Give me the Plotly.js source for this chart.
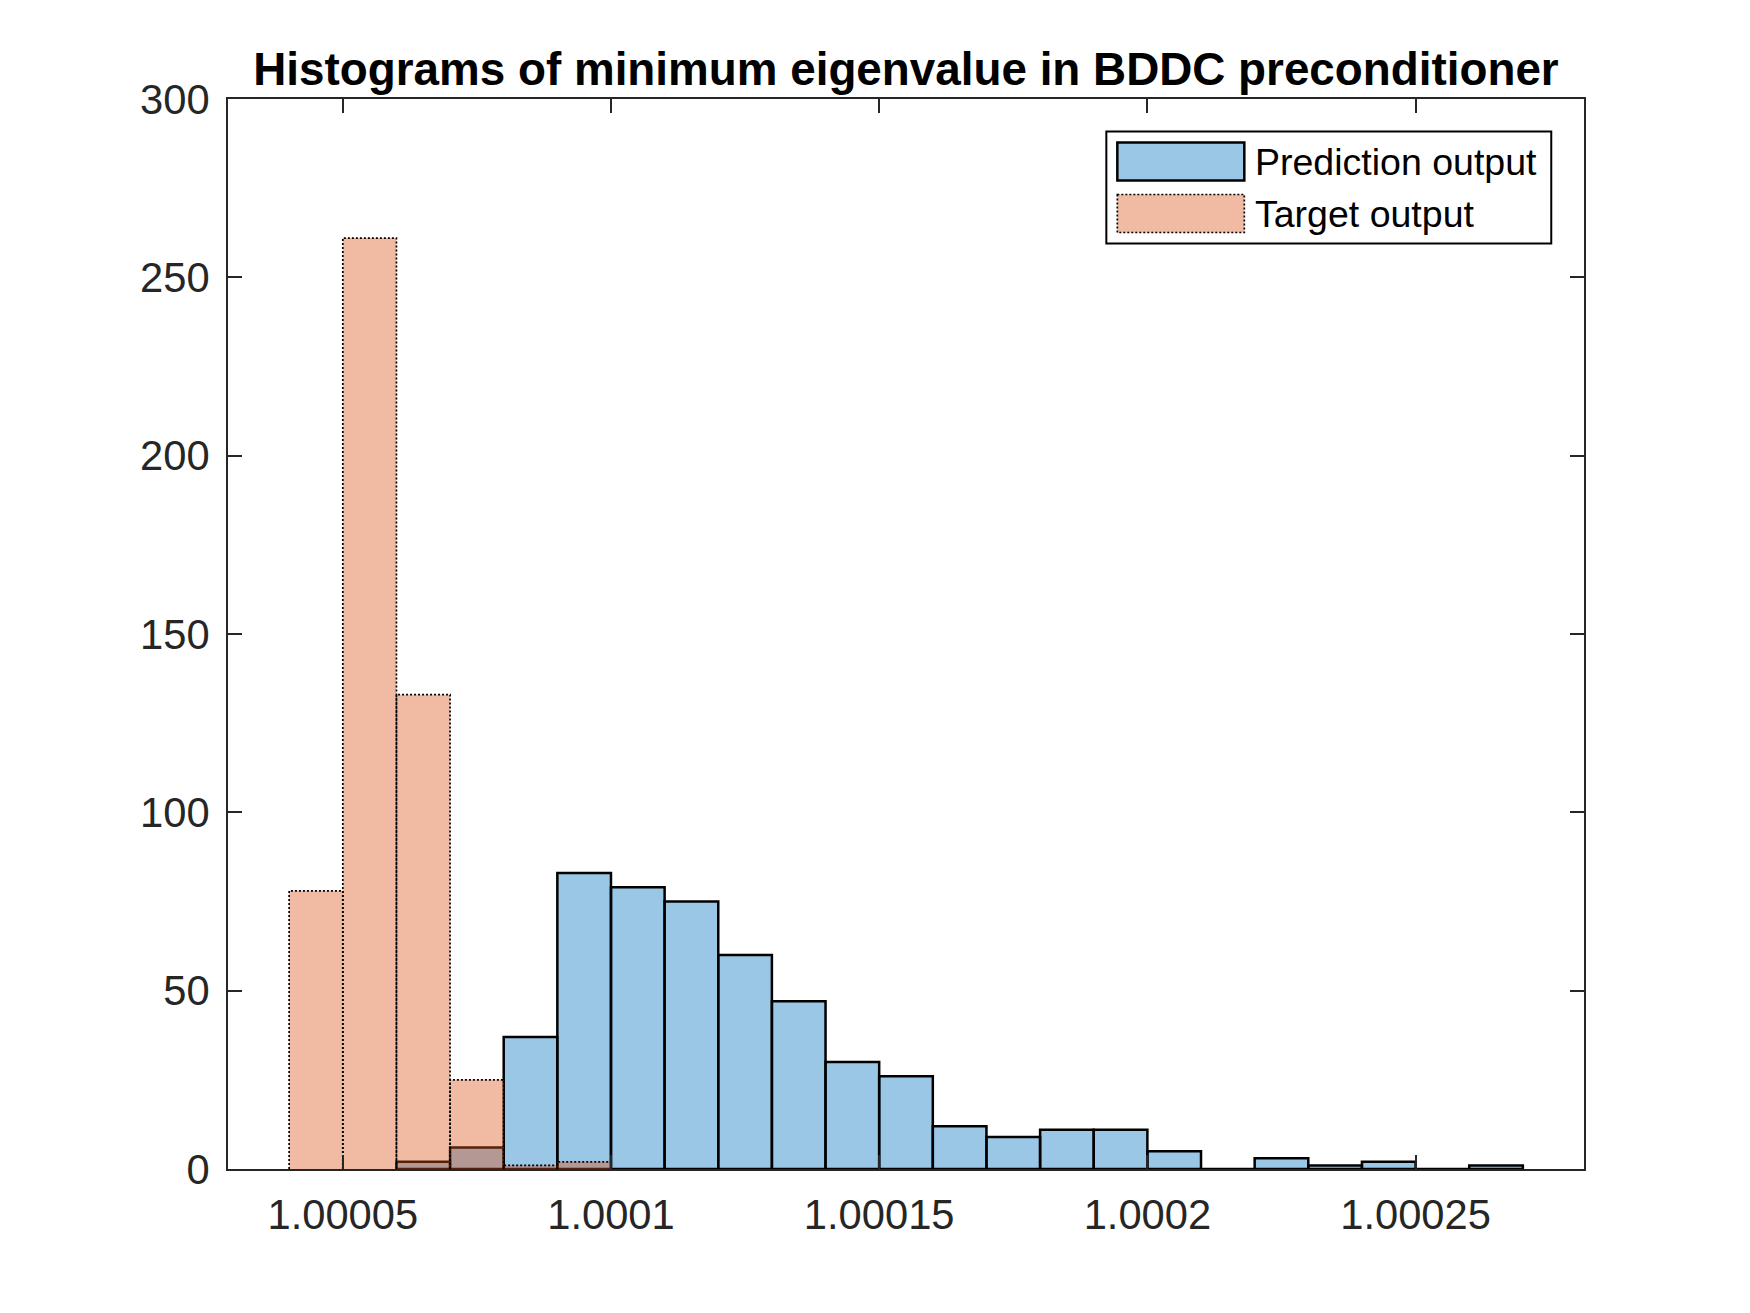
<!DOCTYPE html>
<html>
<head>
<meta charset="utf-8">
<script src="https://cdn.plot.ly/plotly-3.0.1.min.js"></script>
<style>
  html, body { margin: 0; padding: 0; background: #fff; }
  #myDiv { width: 1750px; height: 1313px; }
</style>
</head>
<body>
<div id="myDiv"></div>
<script>
// bin left edges and counts
var binWidth = 0.00001;

var predEdges = [1.00006, 1.00007, 1.00008, 1.00009, 1.00010, 1.00011, 1.00012,
  1.00013, 1.00014, 1.00015, 1.00016, 1.00017, 1.00018, 1.00019, 1.00020,
  1.00021, 1.00022, 1.00023, 1.00024, 1.00025, 1.00026];
var predCounts = [2, 6, 37, 83, 79, 75, 60, 47, 30, 26, 12, 9, 11, 11, 5, 0, 3, 1, 2, 0, 1];

var targEdges = [1.00004, 1.00005, 1.00006, 1.00007, 1.00008, 1.00009];
var targCounts = [78, 261, 133, 25, 1, 2];

var xTickVals = [1.00005, 1.0001, 1.00015, 1.0002, 1.00025];
var xTickText = ['1.00005', '1.0001', '1.00015', '1.0002', '1.00025'];
var yTickVals = [0, 50, 100, 150, 200, 250, 300];

var seriesNames = ['Prediction output', 'Target output'];

// figure geometry (pixels)
var W = 1750, H = 1313;
var axL = 227.5, axR = 1583.75, axT = 98.5, axB = 1168.6;
var axColor = '#262626';
var font = 'Liberation Sans, Arial, Helvetica, sans-serif';

var blueFill = 'rgba(0,114,189,0.4)';
var orangeFill = 'rgba(217,83,25,0.4)';

function px(x) { return (x - axL) / (axR - axL); }
function py(y) { return (axB - y) / (axB - axT); }

// dotted outline of the target bars, built from the bins
var outX = [], outY = [];
targEdges.forEach(function (e, i) {
  outX.push(e, e, e + binWidth, e + binWidth, null);
  outY.push(0, targCounts[i], targCounts[i], 0, null);
});

var trace1 = {
  x: predEdges,
  y: predCounts,
  type: 'bar',
  width: binWidth,
  offset: 0,
  name: seriesNames[0],
  marker: {color: blueFill, line: {color: '#000', width: 2.5}},
  showlegend: false,
  hoverinfo: 'x+y'
};

var trace2 = {
  x: targEdges,
  y: targCounts,
  type: 'bar',
  width: binWidth,
  offset: 0,
  name: seriesNames[1],
  marker: {color: orangeFill, line: {width: 0}},
  showlegend: false,
  hoverinfo: 'x+y'
};

var trace3 = {
  x: outX,
  y: outY,
  type: 'scatter',
  mode: 'lines',
  line: {color: '#000', width: 1.7, dash: '2px,2px'},
  connectgaps: false,
  showlegend: false,
  hoverinfo: 'skip'
};

var data = [trace1, trace2, trace3];

// legend drawn by hand so the swatches keep MATLAB's size
var shapes = [
  {type: 'rect', xref: 'paper', yref: 'paper',
   x0: px(1106), x1: px(1551), y0: py(131), y1: py(243),
   fillcolor: '#fff', line: {color: '#000', width: 2}, layer: 'above'},
  {type: 'rect', xref: 'paper', yref: 'paper',
   x0: px(1117), x1: px(1244), y0: py(142), y1: py(180),
   fillcolor: blueFill, line: {color: '#000', width: 2.5}, layer: 'above'},
  {type: 'rect', xref: 'paper', yref: 'paper',
   x0: px(1117), x1: px(1244), y0: py(194), y1: py(232),
   fillcolor: orangeFill, line: {color: '#000', width: 1.7, dash: '2px,2px'}, layer: 'above'}
];

var annotations = [
  {text: seriesNames[0], xref: 'paper', yref: 'paper', x: px(1253), y: py(162),
   xanchor: 'left', yanchor: 'middle', showarrow: false,
   font: {family: font, size: 37.5, color: '#000'}},
  {text: seriesNames[1], xref: 'paper', yref: 'paper', x: px(1253), y: py(214),
   xanchor: 'left', yanchor: 'middle', showarrow: false,
   font: {family: font, size: 37.5, color: '#000'}}
];

var layout = {
  width: W,
  height: H,
  margin: {l: axL, r: W - axR, t: axT, b: H - axB, pad: 0},
  paper_bgcolor: '#fff',
  plot_bgcolor: '#fff',
  font: {family: font, color: axColor},
  title: {
    text: 'Histograms of minimum eigenvalue in BDDC preconditioner',
    font: {family: font, size: 45.8, color: '#000', weight: 'bold'},
    x: 0.5, xref: 'paper', xanchor: 'center',
    y: 1 - 69 / H, yref: 'container', yanchor: 'middle'
  },
  barmode: 'overlay',
  xaxis: {
    range: [1.0000286, 1.0002814],
    tickvals: xTickVals,
    ticktext: xTickText,
    ticks: 'inside',
    ticklen: 13.6,
    tickwidth: 2,
    tickcolor: axColor,
    showline: true,
    linewidth: 2,
    linecolor: axColor,
    mirror: 'ticks',
    showgrid: false,
    zeroline: false,
    ticklabelstandoff: 8,
    tickfont: {family: font, size: 41.7, color: axColor}
  },
  yaxis: {
    range: [0, 300],
    tickvals: yTickVals,
    ticks: 'inside',
    ticklen: 13.6,
    tickwidth: 2,
    tickcolor: axColor,
    showline: true,
    linewidth: 2,
    linecolor: axColor,
    mirror: 'ticks',
    showgrid: false,
    zeroline: false,
    ticklabelstandoff: 8,
    tickfont: {family: font, size: 41.7, color: axColor}
  },
  shapes: shapes,
  annotations: annotations,
  showlegend: false
};

Plotly.newPlot('myDiv', data, layout, {displayModeBar: false, staticPlot: true});
</script>
</body>
</html>
